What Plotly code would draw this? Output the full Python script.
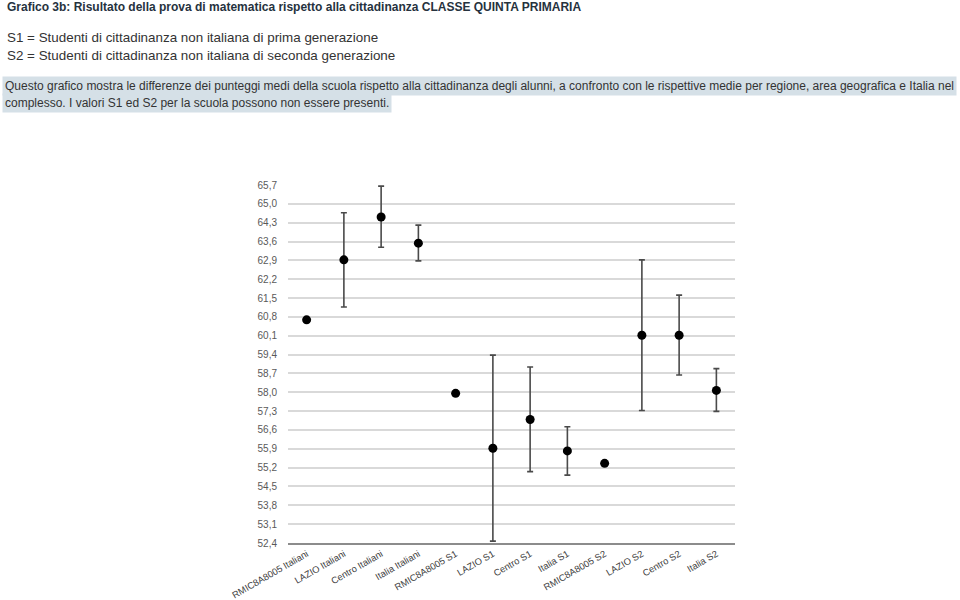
import plotly.graph_objects as go

categories = ["RMIC8A8005 Italiani", "LAZIO Italiani", "Centro Italiani", "Italia Italiani",
              "RMIC8A8005 S1", "LAZIO S1", "Centro S1", "Italia S1",
              "RMIC8A8005 S2", "LAZIO S2", "Centro S2", "Italia S2"]
means = [60.69, 62.92, 64.51, 63.54, 57.96, 55.92, 56.99, 55.82, 55.36, 60.12, 60.12, 58.07]
upper = [60.69, 64.67, 65.66, 64.21, 57.96, 59.38, 58.94, 56.72, 55.36, 62.92, 61.61, 58.88]
lower = [60.69, 61.17, 63.39, 62.88, 57.96, 52.47, 55.05, 54.92, 55.36, 57.32, 58.64, 57.29]
show_err = [False, True, True, True, False, True, True, True, False, True, True, True]

ytick_vals = [52.4, 53.1, 53.8, 54.5, 55.2, 55.9, 56.6, 57.3, 58.0, 58.7, 59.4, 60.1,
              60.8, 61.5, 62.2, 62.9, 63.6, 64.3, 65.0, 65.7]
ytick_text = ["52,4", "53,1", "53,8", "54,5", "55,2", "55,9", "56,6", "57,3", "58,0", "58,7",
              "59,4", "60,1", "60,8", "61,5", "62,2", "62,9", "63,6", "64,3", "65,0", "65,7"]

title_text = "Grafico 3b: Risultato della prova di matematica rispetto alla cittadinanza CLASSE QUINTA PRIMARIA"
legend_lines = ["S1 = Studenti di cittadinanza non italiana di prima generazione",
                "S2 = Studenti di cittadinanza non italiana di seconda generazione"]
para_lines = ["Questo grafico mostra le differenze dei punteggi medi della scuola rispetto alla cittadinanza degli alunni, a confronto con le rispettive medie per regione, area geografica e Italia nel",
              "complesso. I valori S1 ed S2 per la scuola possono non essere presenti."]

err_plus = [(u - m) if s else 0 for u, m, s in zip(upper, means, show_err)]
err_minus = [(m - l) if s else 0 for l, m, s in zip(lower, means, show_err)]

fig = go.Figure()
fig.add_trace(go.Scatter(
    x=categories, y=means, mode="markers",
    marker=dict(color="black", size=9),
    error_y=dict(type="data", symmetric=False, array=err_plus, arrayminus=err_minus,
                 color="#4a4a4a", thickness=1.6, width=3),
    showlegend=False, hoverinfo="skip"))

L, R, T, B = 288, 225, 185, 57
W, H = 960, 600
pw, ph = W - L - R, H - T - B

def px(xp):
    return (xp - L) / pw

def py(yp):
    return (H - B - yp) / ph

font_family = "Liberation Sans, Arial, sans-serif"
annotations = [
    dict(text="<b>" + title_text + "</b>", x=px(5), y=py(6.5), xref="paper", yref="paper",
         xanchor="left", yanchor="middle", showarrow=False,
         font=dict(size=12, color="#26323e", family=font_family)),
]
for i, line in enumerate(legend_lines):
    annotations.append(dict(text=line, x=px(5), y=py(37 + 18 * i), xref="paper", yref="paper",
                            xanchor="left", yanchor="middle", showarrow=False,
                            font=dict(size=13.4, color="#333333", family=font_family)))
for i, line in enumerate(para_lines):
    annotations.append(dict(text=line, x=px(2), y=py(86 + 17 * i), xref="paper", yref="paper",
                            xanchor="left", yanchor="middle", showarrow=False,
                            bgcolor="#d5e0e7", borderpad=2,
                            font=dict(size=12, color="#333333", family=font_family)))

fig.update_layout(
    width=W, height=H, autosize=False,
    margin=dict(l=L, r=R, t=T, b=B, autoexpand=False),
    paper_bgcolor="white", plot_bgcolor="white",
    annotations=annotations,
    xaxis=dict(type="category", range=[-0.5, 11.5], tickangle=-30,
               showgrid=False, showline=True, linecolor="#8c8c8c", linewidth=2,
               tickfont=dict(size=9.4, color="#404040", family=font_family),
               ticks="", automargin=False, fixedrange=True),
    yaxis=dict(range=[52.4, 65.7], tickvals=ytick_vals, ticktext=ytick_text,
               showgrid=True, gridcolor="#d9d9d9", gridwidth=1.5, zeroline=False,
               showline=False, ticks="", ticklabelstandoff=10,
               tickfont=dict(size=10, color="#595959", family=font_family),
               automargin=False, fixedrange=True),
)

fig.write_html("out.html")
